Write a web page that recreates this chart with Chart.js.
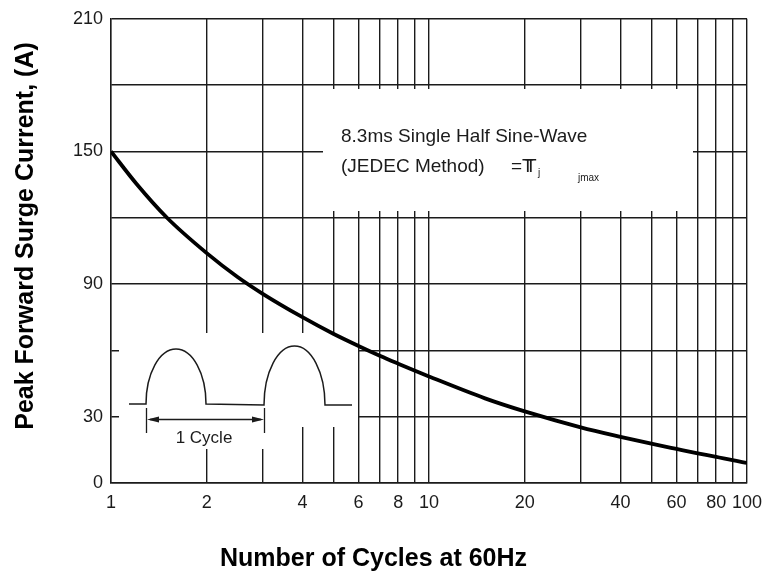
<!DOCTYPE html>
<html>
<head>
<meta charset="utf-8">
<script src="https://cdn.jsdelivr.net/npm/chart.js@4.4.0/dist/chart.umd.min.js"></script>
<style>
  html, body { margin: 0; padding: 0; background: #fff; }
  #surge { display: block; }
</style>
</head>
<body>
<canvas id="surge" width="779" height="574"></canvas>
<script>
// values
const cycles = [1, 1.2, 1.5, 2, 2.5, 3, 4, 5, 6, 7, 8, 9, 10, 15, 20, 30, 40, 50, 60, 70, 80, 90, 100];
const surgeAmps = [150, 135.5, 120, 104, 93.2, 85.6, 75, 67.5, 62, 57.6, 54, 50.9, 48.2, 38.3, 32.4, 25.2, 20.9, 17.8, 15.4, 13.4, 11.8, 10.3, 9.1];

const xGridValues = [1, 2, 3, 4, 5, 6, 7, 8, 9, 10, 20, 30, 40, 50, 60, 70, 80, 90, 100];
const xTickLabels = [1, 2, 4, 6, 8, 10, 20, 40, 60, 80, 100];
const yTickLabels = [0, 30, 90, 150, 210];

const FONT = "'Liberation Sans', Arial, sans-serif";
const INK = '#1b1b1b';

// white patches that break the grid behind the note box and the waveform sketch
const blanks = {
  id: 'blanks',
  beforeDatasetsDraw(chart) {
    const ctx = chart.ctx;
    ctx.save();
    ctx.fillStyle = '#fff';
    ctx.fillRect(323, 89, 370, 122);
    ctx.fillRect(119, 333, 239, 94);
    ctx.fillRect(119, 427, 171, 22);
    ctx.restore();
  }
};

const notes = {
  id: 'notes',
  afterDraw(chart) {
    const ctx = chart.ctx;
    ctx.save();
    ctx.fillStyle = INK;
    ctx.strokeStyle = INK;

    // note box text
    ctx.font = '19px ' + FONT;
    ctx.textAlign = 'left';
    ctx.textBaseline = 'alphabetic';
    ctx.fillText('8.3ms Single Half Sine-Wave', 341, 142);
    ctx.fillText('(JEDEC Method)', 341, 172);
    ctx.fillText('=', 511, 172);
    ctx.fillText('T', 522, 172);
    ctx.fillText('T', 525, 172);
    ctx.font = '10px ' + FONT;
    ctx.fillText('j', 538, 176);
    ctx.fillText('jmax', 578, 181);

    // waveform sketch
    ctx.lineWidth = 1.5;
    ctx.beginPath();
    ctx.moveTo(129, 404);
    ctx.lineTo(146, 404);
    ctx.ellipse(176, 404, 30, 55, 0, Math.PI, 2 * Math.PI);
    ctx.lineTo(264, 405);
    ctx.ellipse(294.5, 405, 30.5, 59, 0, Math.PI, 2 * Math.PI);
    ctx.lineTo(352, 405);
    ctx.stroke();

    // one cycle marker
    ctx.lineWidth = 1.3;
    ctx.beginPath();
    ctx.moveTo(146.5, 408); ctx.lineTo(146.5, 433);
    ctx.moveTo(264.5, 408); ctx.lineTo(264.5, 433);
    ctx.moveTo(150, 419.5); ctx.lineTo(261, 419.5);
    ctx.stroke();
    ctx.beginPath();
    ctx.moveTo(147, 419.5); ctx.lineTo(159, 416.5); ctx.lineTo(159, 422.5); ctx.closePath();
    ctx.moveTo(264, 419.5); ctx.lineTo(252, 416.5); ctx.lineTo(252, 422.5); ctx.closePath();
    ctx.fill();
    ctx.font = '17px ' + FONT;
    ctx.textAlign = 'center';
    ctx.fillText('1 Cycle', 204, 443);

    // y axis title
    ctx.translate(26, 236);
    ctx.rotate(-Math.PI / 2);
    ctx.font = 'bold 25px ' + FONT;
    ctx.textBaseline = 'middle';
    ctx.fillStyle = '#000';
    ctx.fillText('Peak Forward Surge Current, (A)', 0, 0);
    ctx.restore();
  }
};

const ctx = document.getElementById('surge').getContext('2d');
new Chart(ctx, {
  type: 'line',
  data: {
    datasets: [{
      data: cycles.map((c, i) => ({ x: c, y: surgeAmps[i] })),
      borderColor: '#000',
      borderWidth: 3.8,
      pointRadius: 0,
      cubicInterpolationMode: 'monotone',
      fill: false
    }]
  },
  options: {
    responsive: false,
    animation: false,
    devicePixelRatio: 1,
    layout: { padding: { top: 17, right: 32, left: 0, bottom: 0 } },
    plugins: {
      legend: { display: false },
      tooltip: { enabled: false },
      title: {
        display: true,
        position: 'bottom',
        text: 'Number of Cycles at 60Hz',
        color: '#000',
        font: { family: FONT, size: 25, weight: 'bold' },
        padding: { top: 0, bottom: 0 }
      }
    },
    scales: {
      x: {
        type: 'logarithmic',
        min: 1,
        max: 100,
        afterFit(scale) { scale.height = 61; },
        afterBuildTicks(scale) { scale.ticks = xGridValues.map(v => ({ value: v })); },
        grid: { color: INK, lineWidth: 1.4, drawTicks: false },
        border: { color: INK, width: 1.4 },
        ticks: {
          autoSkip: false,
          maxRotation: 0,
          padding: 9,
          color: INK,
          font: { family: FONT, size: 18 },
          callback: v => xTickLabels.includes(v) ? String(v) : ''
        }
      },
      y: {
        min: 0,
        max: 210,
        afterFit(scale) { scale.width = 111; },
        grid: { color: INK, lineWidth: 1.4, drawTicks: false },
        border: { color: INK, width: 1.4 },
        ticks: {
          stepSize: 30,
          padding: 8,
          color: INK,
          font: { family: FONT, size: 18 },
          callback: v => yTickLabels.includes(v) ? String(v) : ''
        }
      }
    }
  },
  plugins: [blanks, notes]
});
</script>
</body>
</html>
